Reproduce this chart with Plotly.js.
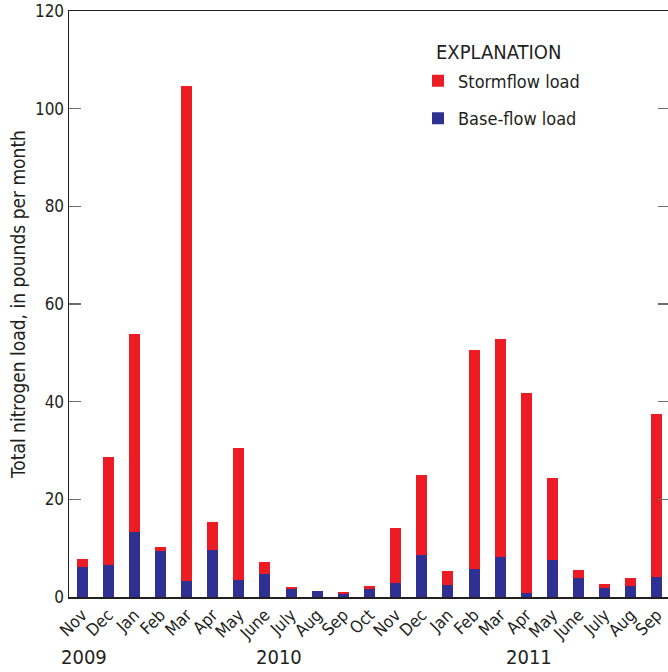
<!DOCTYPE html>
<html>
<head>
<meta charset="utf-8">
<script src="https://cdn.plot.ly/plotly-3.0.1.min.js"></script>
<style>
html,body{margin:0;padding:0;overflow:hidden;background:#fff;}
#chart{width:672px;height:672px;}
</style>
</head>
<body>
<div id="chart"></div>
<script>
// Months, Nov 2009 - Sep 2011
const monthLabels = ["Nov","Dec","Jan","Feb","Mar","Apr","May","June","July","Aug","Sep","Oct",
                     "Nov","Dec","Jan","Feb","Mar","Apr","May","June","July","Aug","Sep"];
// Base-flow load (pounds per month)
const baseFlow = [6.2,6.6,13.4,9.4,3.3,9.6,3.5,4.8,1.6,1.2,0.6,1.7,
                  2.9,8.6,2.5,5.7,8.2,0.8,7.6,3.9,1.8,2.3,4.1];
// Stormflow load (pounds per month)
const stormFlow = [1.6,22.1,40.5,0.9,101.3,5.8,27.1,2.4,0.4,0.05,0.4,0.6,
                   11.3,16.4,2.8,44.8,44.7,41.0,16.8,1.6,0.9,1.6,33.4];
const yearLabels = ["2009","2010","2011"];
const yearPositions = [0.08, 7.52, 17.12];

const FONT = "'DejaVu Sans Condensed','Liberation Sans Narrow','Arial Narrow',sans-serif";
const TXT = "#231F20";
const idx = monthLabels.map((_, i) => i);

const traces = [
  {type:"bar", x: idx, y: baseFlow, name:"Base-flow load", legendgroup:"b", legendrank:2,
   marker:{color:"#2E3192", line:{width:0}}, width:0.42, hoverinfo:"y"},
  {type:"bar", x: idx, y: stormFlow, name:"Stormflow load", legendgroup:"s", legendrank:1,
   marker:{color:"#ED1C24", line:{width:0}}, width:0.42, hoverinfo:"y"}
];

const annotations = yearLabels.map((t, i) => ({
  text: t, x: yearPositions[i], xref:"x", y:-0.102, yref:"paper",
  xanchor:"center", yanchor:"middle", showarrow:false,
  font:{family:FONT, size:20, color:TXT}
}));
annotations.push({
  text:"EXPLANATION", x:0.6073, xref:"paper", y:0.930, yref:"paper",
  xanchor:"left", yanchor:"middle", showarrow:false,
  font:{family:FONT, size:20, color:TXT}
});

const layout = {
  width:672, height:672,
  margin:{l:69, r:2, t:11, b:75},
  paper_bgcolor:"#fff", plot_bgcolor:"#fff",
  barmode:"stack",
  font:{family:FONT, color:TXT, size:16},
  showlegend:true,
  legend:{x:0.5807, xanchor:"left", y:0.912, yanchor:"top",
          traceorder:"grouped", tracegroupgap:11,
          font:{family:FONT, size:18, color:TXT}, bgcolor:"rgba(0,0,0,0)"},
  xaxis:{range:[-0.5,22.5], tickvals: idx, ticktext: monthLabels,
         tickangle:-45, ticks:"", showline:true, linecolor:TXT, linewidth:1.5,
         mirror:true, showgrid:false, zeroline:false, automargin:false,
         tickfont:{family:FONT, size:17, color:TXT}},
  yaxis:{range:[0,120], dtick:20, tick0:0, ticks:"inside", ticklen:12,
         tickcolor:"#6d6d6d", tickwidth:1.5, showline:true, linecolor:TXT, linewidth:1.5,
         mirror:"ticks", showgrid:false, zeroline:false, automargin:false,
         tickfont:{family:FONT, size:17, color:TXT},
         title:{text:"Total nitrogen load, in pounds per month", standoff:4,
                font:{family:FONT, size:19, color:TXT}}},
  annotations: annotations
};

Plotly.newPlot("chart", traces, layout, {displayModeBar:false, staticPlot:true});
</script>
</body>
</html>
